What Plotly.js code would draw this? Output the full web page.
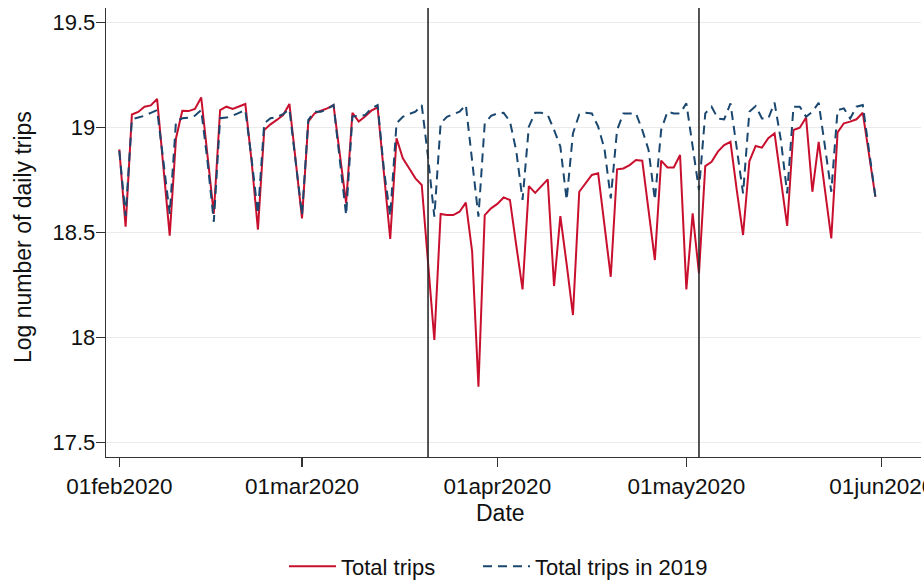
<!DOCTYPE html>
<html>
<head>
<meta charset="utf-8">
<script src="https://cdn.plot.ly/plotly-3.0.1.min.js"></script>
<style>
  html, body { margin: 0; padding: 0; background: #ffffff; }
  #chart { width: 924px; height: 581px; }
</style>
</head>
<body>
<div id="chart"></div>
<script>
// Daily series, starting 01feb2020 (one value per day through 31may2020)
const startDate = '2020-02-01';

const totalTrips = [
  18.897, 18.529, 19.063, 19.075, 19.100, 19.106, 19.137, 18.82, 18.486,
  18.95, 19.080, 19.079, 19.089, 19.144, 18.86, 18.59,
  19.084, 19.100, 19.089, 19.100, 19.113, 18.84, 18.515,
  18.989, 19.016, 19.037, 19.060, 19.113, 18.84, 18.568,
  19.029, 19.069, 19.081, 19.092, 19.108, 18.86, 18.640,
  19.071, 19.029, 19.053, 19.081, 19.097, 18.77, 18.470,
  18.950, 18.854, 18.807, 18.759, 18.727, 18.35, 17.989,
  18.589, 18.584, 18.584, 18.600, 18.643, 18.41, 17.767,
  18.584, 18.616, 18.637, 18.668, 18.656, 18.44, 18.230,
  18.722, 18.690, 18.722, 18.754, 18.246, 18.579, 18.35,
  18.108, 18.695, 18.735, 18.775, 18.783, 18.55, 18.290,
  18.802, 18.806, 18.822, 18.846, 18.843, 18.61, 18.370,
  18.843, 18.811, 18.811, 18.870, 18.230, 18.592, 18.306,
  18.817, 18.838, 18.886, 18.917, 18.933, 18.703, 18.489,
  18.840, 18.913, 18.905, 18.950, 18.973, 18.751, 18.532,
  18.989, 19.000, 19.049, 18.695, 18.933, 18.703, 18.473,
  18.978, 19.021, 19.029, 19.040, 19.071, 18.87, 18.671
];

const totalTrips2019 = [
  18.890, 18.580, 19.040, 19.048, 19.057, 19.071, 19.084, 18.84, 18.590,
  19.030, 19.045, 19.048, 19.057, 19.084, 18.84, 18.552,
  19.045, 19.048, 19.057, 19.071, 19.084, 18.85, 18.590,
  19.021, 19.045, 19.050, 19.065, 19.088, 18.85, 18.584,
  19.037, 19.076, 19.076, 19.087, 19.108, 18.85, 18.584,
  19.053, 19.056, 19.060, 19.092, 19.108, 18.80, 18.580,
  19.021, 19.052, 19.065, 19.076, 19.108, 18.86, 18.576,
  19.021, 19.052, 19.063, 19.076, 19.108, 18.85, 18.576,
  19.021, 19.056, 19.068, 19.071, 19.030, 18.89, 18.656,
  19.005, 19.071, 19.071, 19.060, 18.990, 18.910, 18.656,
  18.973, 19.063, 19.071, 19.068, 19.005, 18.90, 18.663,
  18.989, 19.068, 19.068, 19.068, 18.989, 18.894, 18.656,
  18.989, 19.076, 19.068, 19.068, 19.116, 18.910, 18.703,
  19.068, 19.100, 19.044, 19.040, 19.116, 18.910, 18.687,
  19.076, 19.103, 19.044, 19.044, 19.119, 18.941, 18.687,
  19.100, 19.100, 19.052, 19.076, 19.119, 18.910, 18.695,
  19.084, 19.092, 19.044, 19.100, 19.108, 18.89, 18.671
];

const eventDates = ['2020-03-21', '2020-05-03'];

const xTickVals = ['2020-02-01', '2020-03-01', '2020-04-01', '2020-05-01', '2020-06-01'];
const xTickText = ['01feb2020', '01mar2020', '01apr2020', '01may2020', '01jun2020'];
const yTickVals = [17.5, 18, 18.5, 19, 19.5];
const yTickText = ['17.5', '18', '18.5', '19', '19.5'];

const seriesNames = ['Total trips', 'Total trips in 2019'];
const xTitle = 'Date';
const yTitle = 'Log number of daily trips';

// build the daily date axis
function dayList(start, n) {
  const out = [];
  const t0 = new Date(start + 'T00:00:00Z').getTime();
  for (let i = 0; i < n; i++) {
    out.push(new Date(t0 + i * 86400000).toISOString().slice(0, 10));
  }
  return out;
}
const dates = dayList(startDate, totalTrips.length);

const FONT = 'Arial, "Liberation Sans", Helvetica, sans-serif';

const traces = [
  {
    x: dates, y: totalTrips, name: seriesNames[0], type: 'scatter', mode: 'lines',
    line: { color: '#c8102e', width: 2 }, legend: 'legend'
  },
  {
    x: dates, y: totalTrips2019, name: seriesNames[1], type: 'scatter', mode: 'lines',
    line: { color: '#1a476f', width: 2, dash: '9px,6px' }, legend: 'legend2'
  }
];

const shapes = eventDates.map(d => ({
  type: 'line', xref: 'x', yref: 'paper', x0: d, x1: d, y0: 0, y1: 1,
  line: { color: '#2b2b2b', width: 1.6 }
}));

const legendBase = {
  orientation: 'h', xref: 'container', yref: 'container',
  xanchor: 'left', y: 0.025, yanchor: 'middle',
  font: { family: FONT, size: 22, color: '#111111' },
  itemwidth: 47, bgcolor: 'rgba(0,0,0,0)'
};

const layout = {
  width: 924, height: 581,
  margin: { l: 106, r: 3, t: 8, b: 124 },
  paper_bgcolor: '#ffffff', plot_bgcolor: '#ffffff',
  font: { family: FONT, color: '#111111', size: 20 },
  showlegend: true,
  legend: Object.assign({}, legendBase, { x: 284 / 924 }),
  legend2: Object.assign({}, legendBase, { x: 478 / 924 }),
  xaxis: {
    type: 'date',
    range: ['2020-01-29 21:20', '2020-06-07 05:45'],
    tickmode: 'array', tickvals: xTickVals, ticktext: xTickText,
    ticklabeloverflow: 'allow',
    ticks: 'outside', ticklen: 9, tickwidth: 1.3, tickcolor: '#333333',
    showline: true, linecolor: '#333333', linewidth: 1.3,
    showgrid: false, zeroline: false,
    tickfont: { family: FONT, size: 22.5, color: '#111111' }
  },
  yaxis: {
    range: [17.432, 19.57],
    tickmode: 'array', tickvals: yTickVals, ticktext: yTickText,
    ticks: 'outside', ticklen: 9, tickwidth: 1.3, tickcolor: '#333333',
    ticklabelstandoff: -4,
    showline: true, linecolor: '#333333', linewidth: 1.3,
    showgrid: true, gridcolor: '#ebebeb', gridwidth: 1,
    zeroline: false,
    tickfont: { family: FONT, size: 22, color: '#111111' }
  },
  annotations: [
    {
      text: xTitle, xref: 'paper', yref: 'paper', x: (500 - 106) / 815, y: -0.125,
      xanchor: 'center', yanchor: 'middle', showarrow: false,
      font: { family: FONT, size: 23, color: '#111111' }
    },
    {
      text: yTitle, xref: 'paper', yref: 'paper', x: (23 - 106) / 815, y: 0.49,
      xanchor: 'center', yanchor: 'middle', showarrow: false, textangle: -90,
      font: { family: FONT, size: 23, color: '#111111' }
    }
  ],
  shapes: shapes
};

Plotly.newPlot('chart', traces, layout, { staticPlot: true, displayModeBar: false });
</script>
</body>
</html>
